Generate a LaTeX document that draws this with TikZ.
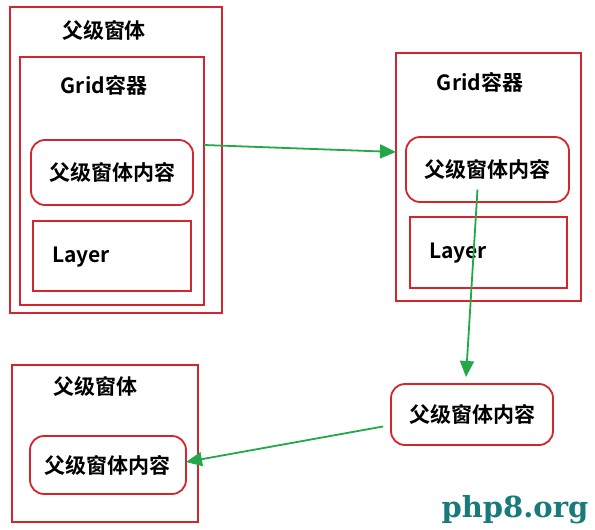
\documentclass[tikz,border=0pt]{standalone}
\usepackage{fontspec}
\usetikzlibrary{arrows.meta}
\newfontfamily\cjk{Noto Sans CJK SC}[BoldFont={Noto Sans CJK SC Bold}]
\newfontfamily\markfont{DejaVu Serif}
\definecolor{boxred}{RGB}{212,36,44}
\definecolor{flowgreen}{RGB}{34,168,72}
\definecolor{markteal}{RGB}{26,122,122}

\begin{document}
\begin{tikzpicture}[x=1pt,y=-1pt,
  box/.style={draw=boxred, line width=1.8pt, inner sep=0pt, outer sep=0pt},
  panel/.style={box, rounded corners=14pt},
  txt/.style={font=\cjk\bfseries\fontsize{21}{21}\selectfont, inner sep=0pt},
  flow/.style={draw=flowgreen, line width=1.8pt, -{Triangle[length=16pt,width=14pt]}}]
  \useasboundingbox (0,0) rectangle (595,530);
  % left: parent window holding the grid
  \node[box, minimum width=212pt, minimum height=306pt] (outer1) at (116,160) {};
  \node[txt] (title1) at (104,30) {父级窗体};
  \node[box, minimum width=184pt, minimum height=248pt] (grid1) at (112,181) {};
  \node[txt] (gridlabel1) at (104,85) {Grid容器};
  \node[panel, txt, minimum width=162pt, minimum height=65pt] (content1) at (112,172.5) {父级窗体内容};
  \node[box, minimum width=158pt, minimum height=70pt] (layer1) at (112,256) {};
  \node[txt] (layerlabel1) at (81,257) {Layer};
  % right: grid alone
  \node[box, minimum width=185pt, minimum height=248pt] (grid2) at (488.5,177) {};
  \node[txt] (gridlabel2) at (480,82) {Grid容器};
  \node[panel, txt, minimum width=163pt, minimum height=65pt] (content2) at (487.5,169.5) {父级窗体内容};
  \node[box, minimum width=157pt, minimum height=71pt] (layer2) at (488.5,252.5) {};
  \node[txt] (layerlabel2) at (458,253) {Layer};
  % bottom
  \node[panel, txt, minimum width=162pt, minimum height=61pt] (content3) at (472,414.5) {父级窗体内容};
  \node[box, minimum width=186pt, minimum height=157pt] (outer3) at (105,443.5) {};
  \node[txt] (title3) at (95,386) {父级窗体};
  \node[panel, txt, minimum width=156pt, minimum height=58pt] (content4) at (108,465) {父级窗体内容};
  \node[font=\markfont\bfseries\fontsize{29}{29}\selectfont, text=markteal, inner sep=0pt] (mark) at (515,510) {php8.org};
  % moves
  \draw[flow] ([yshift=36pt]grid1.east) -- ([yshift=25pt]grid2.west);
  \draw[flow] ([xshift=-10pt,yshift=-20pt]content2.center) -- ([xshift=-6pt,yshift=7pt]content3.north);
  \draw[flow] ([xshift=-8pt,yshift=-12pt]content3.west) -- ([yshift=3pt]content4.east);
\end{tikzpicture}
\end{document}
